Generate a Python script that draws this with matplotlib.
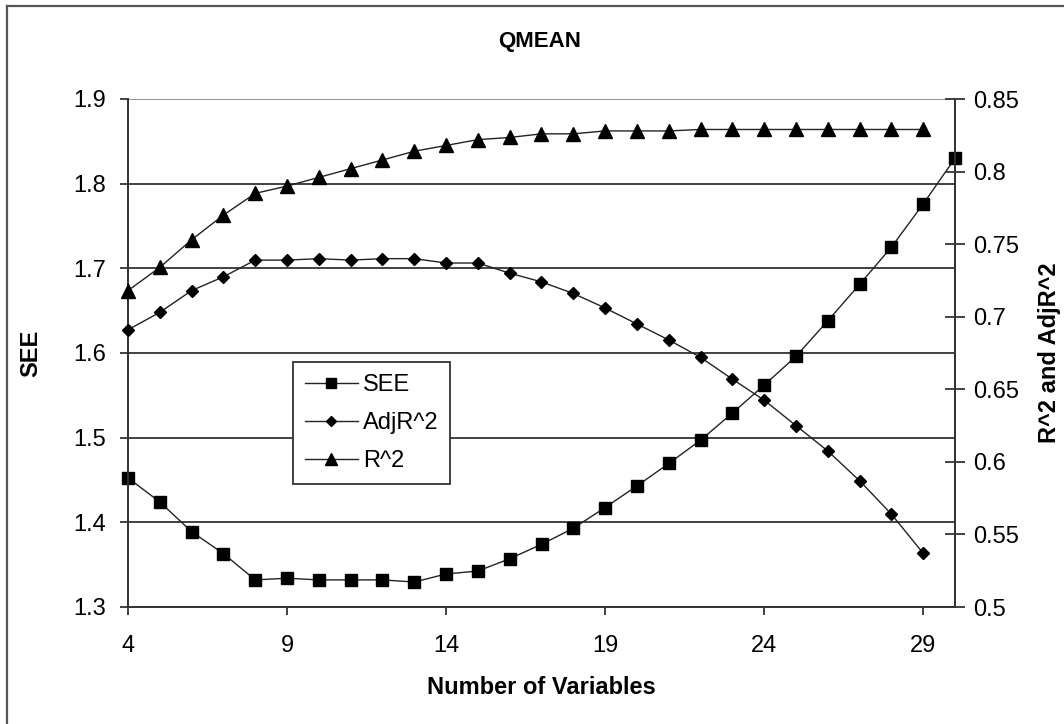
import matplotlib
matplotlib.use("Agg")
import matplotlib.pyplot as plt
from matplotlib.lines import Line2D

plt.rcParams['font.family'] = ['Liberation Sans', 'DejaVu Sans']

# ---- data ----
x_see = list(range(4, 31))
see = [1.4525, 1.424, 1.389, 1.363, 1.332, 1.334, 1.332, 1.332, 1.332, 1.3295,
       1.339, 1.3425, 1.357, 1.374, 1.393, 1.4175, 1.443, 1.4695, 1.497, 1.529,
       1.562, 1.596, 1.638, 1.681, 1.725, 1.776, 1.830]
x_r = list(range(4, 30))
adj_r2 = [0.691, 0.703, 0.718, 0.7275, 0.739, 0.739, 0.740, 0.739, 0.740, 0.740,
          0.737, 0.737, 0.730, 0.724, 0.716, 0.706, 0.695, 0.684, 0.672, 0.657,
          0.6425, 0.625, 0.6075, 0.587, 0.564, 0.537]
r2 = [0.718, 0.734, 0.753, 0.770, 0.785, 0.790, 0.796, 0.802, 0.808, 0.814,
      0.818, 0.822, 0.8235, 0.826, 0.826, 0.828, 0.828, 0.828, 0.829, 0.829,
      0.829, 0.829, 0.829, 0.829, 0.829, 0.829]
x_ticks = [4, 9, 14, 19, 24, 29]
left_ticks = [1.3, 1.4, 1.5, 1.6, 1.7, 1.8, 1.9]
right_ticks = [0.5, 0.55, 0.6, 0.65, 0.7, 0.75, 0.8, 0.85]

W, H = 1064, 724
fig = plt.figure(figsize=(W / 100, H / 100), dpi=100)
fig.patch.set_facecolor('white')

L, R, T, B = 128, 955, 99, 607
ax = fig.add_axes([L / W, 1 - B / H, (R - L) / W, (B - T) / H])
ax2 = ax.twinx()

fs = 17
ax.set_xlim(4, 30)
ax.set_ylim(1.3, 1.9)
ax2.set_ylim(0.5, 0.85)

ax.set_yticks(left_ticks)
ax.set_yticklabels([f"{v:g}" for v in left_ticks])
ax2.set_yticks(right_ticks)
ax2.set_yticklabels([f"{v:g}" for v in right_ticks])
ax.set_xticks(x_ticks)
ax.set_xticklabels([str(v) for v in x_ticks])

for v in left_ticks[1:]:
    ax.axhline(v, color='#333333', lw=1.3, zorder=0.5)
ax.axhline(1.9, color='#999999', lw=1.3, zorder=0.5)

for sp in ['top']:
    ax.spines[sp].set_visible(False)
    ax2.spines[sp].set_visible(False)
for a in (ax, ax2):
    for sp in ['left', 'right', 'bottom']:
        a.spines[sp].set_color('#333333')
        a.spines[sp].set_linewidth(1.3)

ax.tick_params(axis='y', direction='out', length=6, width=1.3, color='#333333',
               labelsize=fs, pad=10)
ax.tick_params(axis='x', direction='out', length=6, width=1.3, color='#333333',
               labelsize=fs, pad=14)
ax2.tick_params(axis='y', direction='inout', length=14, width=1.3, color='#333333',
                labelsize=fs, pad=6)

l_see, = ax.plot(x_see, see, color='#222222', lw=1.0, marker='s', ms=8.5,
                 mfc='black', mec='black', label='SEE', clip_on=False, zorder=3)
l_adj, = ax2.plot(x_r, adj_r2, color='#222222', lw=1.0, marker='D', ms=6.5,
                  mfc='black', mec='black', label='AdjR^2', clip_on=False, zorder=3)
l_r2, = ax2.plot(x_r, r2, color='#222222', lw=1.0, marker='^', ms=10,
                 mfc='black', mec='black', label='R^2', clip_on=False, zorder=3)

ax.set_xlabel('Number of Variables', fontsize=fs, fontweight='bold', labelpad=14)
ax.set_ylabel('SEE', fontsize=fs, fontweight='bold', labelpad=22)
ax2.set_ylabel('R^2 and AdjR^2', fontsize=fs, fontweight='bold', labelpad=14)

fig.text(540 / W, 1 - 42 / H, 'QMEAN', fontsize=16, fontweight='bold',
         ha='center', va='center')

leg = ax2.legend([l_see, l_adj, l_r2], ['SEE', 'AdjR^2', 'R^2'],
                 loc='upper left', bbox_to_anchor=(293 / W, 1 - 362 / H),
                 bbox_transform=fig.transFigure, borderaxespad=0,
                 fancybox=False, framealpha=1, edgecolor='#333333',
                 fontsize=fs, handlelength=2.25, handletextpad=0.2,
                 labelspacing=0.68, borderpad=0.5, markerscale=0.85)
leg.get_frame().set_linewidth(1.3)

# outer chart border (cut off at right and bottom)
fig.add_artist(Line2D([7 / W, 7 / W], [1 - 6 / H, 0], transform=fig.transFigure,
                      color='#555555', lw=1.6))
fig.add_artist(Line2D([7 / W, 1], [1 - 6 / H, 1 - 6 / H], transform=fig.transFigure,
                      color='#555555', lw=1.6))

fig.savefig('out.png', dpi=100)
